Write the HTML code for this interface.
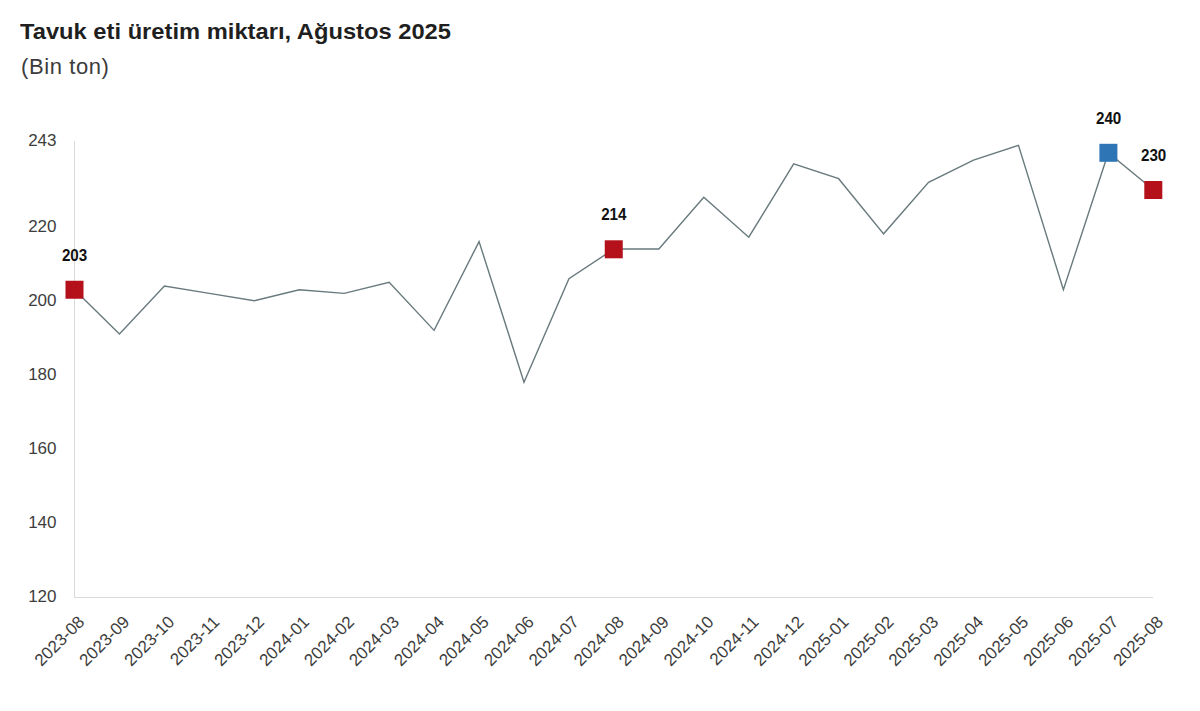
<!DOCTYPE html>
<html><head><meta charset="utf-8"><style>
html,body{margin:0;padding:0;background:#fff;width:1200px;height:711px;overflow:hidden}
body{position:relative;font-family:"Liberation Sans",sans-serif}
.t{position:absolute;left:20.3px;top:18.7px;font-size:22px;font-weight:bold;color:#1f1f1f;white-space:nowrap;transform-origin:0 0;transform:scaleX(1.078)}
.s{position:absolute;left:21px;top:54px;font-size:22px;color:#3c3c3c;white-space:nowrap;letter-spacing:0.6px}
svg{position:absolute;left:0;top:0}
.yl{font-size:17px;fill:#3d3d3d;text-anchor:end}
.dl{font-size:16px;font-weight:bold;fill:#111;text-anchor:middle}
.xl{font-size:17px;fill:#3d3d3d;text-anchor:end}
</style></head><body>
<div class="t">Tavuk eti üretim miktarı, Ağustos 2025</div>
<div class="s">(Bin ton)</div>
<svg width="1200" height="711" viewBox="0 0 1200 711">
<line x1="74.5" y1="141" x2="74.5" y2="598" stroke="#d9d9d9" stroke-width="1"/>
<line x1="74" y1="597.5" x2="1153" y2="597.5" stroke="#d9d9d9" stroke-width="1"/>
<text x="56.5" y="146.4" class="yl">243</text>
<text x="56.5" y="232.1" class="yl">220</text>
<text x="56.5" y="306.1" class="yl">200</text>
<text x="56.5" y="380.1" class="yl">180</text>
<text x="56.5" y="454.1" class="yl">160</text>
<text x="56.5" y="528.1" class="yl">140</text>
<text x="56.5" y="602.1" class="yl">120</text>
<polyline points="74.50,289.70 119.45,334.10 164.40,286.00 209.35,293.40 254.30,300.80 299.25,289.70 344.20,293.40 389.15,282.30 434.10,330.40 479.05,241.60 524.00,382.20 568.95,278.60 613.90,249.00 658.85,249.00 703.80,197.20 748.75,237.16 793.70,163.90 838.65,178.70 883.60,233.83 928.55,182.40 973.50,160.20 1018.45,145.40 1063.40,289.70 1108.35,152.80 1153.30,189.80" fill="none" stroke="#687a7d" stroke-width="1.4" stroke-linejoin="miter"/>
<rect x="65.50" y="280.75" width="18" height="18" fill="#b5111b"/>
<text transform="translate(74.60,261.10) scale(0.95,1)" class="dl">203</text>
<rect x="604.75" y="240.30" width="18" height="18" fill="#b5111b"/>
<text transform="translate(613.85,220.20) scale(0.95,1)" class="dl">214</text>
<rect x="1099.40" y="143.80" width="18" height="18" fill="#2e75b6"/>
<text transform="translate(1108.65,123.90) scale(0.95,1)" class="dl">240</text>
<rect x="1144.30" y="181.00" width="18" height="18" fill="#b5111b"/>
<text transform="translate(1153.65,161.10) scale(0.95,1)" class="dl">230</text>
<text transform="translate(85.50,623) rotate(-45)" class="xl">2023-08</text>
<text transform="translate(130.45,623) rotate(-45)" class="xl">2023-09</text>
<text transform="translate(175.40,623) rotate(-45)" class="xl">2023-10</text>
<text transform="translate(220.35,623) rotate(-45)" class="xl">2023-11</text>
<text transform="translate(265.30,623) rotate(-45)" class="xl">2023-12</text>
<text transform="translate(310.25,623) rotate(-45)" class="xl">2024-01</text>
<text transform="translate(355.20,623) rotate(-45)" class="xl">2024-02</text>
<text transform="translate(400.15,623) rotate(-45)" class="xl">2024-03</text>
<text transform="translate(445.10,623) rotate(-45)" class="xl">2024-04</text>
<text transform="translate(490.05,623) rotate(-45)" class="xl">2024-05</text>
<text transform="translate(535.00,623) rotate(-45)" class="xl">2024-06</text>
<text transform="translate(579.95,623) rotate(-45)" class="xl">2024-07</text>
<text transform="translate(624.90,623) rotate(-45)" class="xl">2024-08</text>
<text transform="translate(669.85,623) rotate(-45)" class="xl">2024-09</text>
<text transform="translate(714.80,623) rotate(-45)" class="xl">2024-10</text>
<text transform="translate(759.75,623) rotate(-45)" class="xl">2024-11</text>
<text transform="translate(804.70,623) rotate(-45)" class="xl">2024-12</text>
<text transform="translate(849.65,623) rotate(-45)" class="xl">2025-01</text>
<text transform="translate(894.60,623) rotate(-45)" class="xl">2025-02</text>
<text transform="translate(939.55,623) rotate(-45)" class="xl">2025-03</text>
<text transform="translate(984.50,623) rotate(-45)" class="xl">2025-04</text>
<text transform="translate(1029.45,623) rotate(-45)" class="xl">2025-05</text>
<text transform="translate(1074.40,623) rotate(-45)" class="xl">2025-06</text>
<text transform="translate(1119.35,623) rotate(-45)" class="xl">2025-07</text>
<text transform="translate(1164.30,623) rotate(-45)" class="xl">2025-08</text>
</svg>
</body></html>
